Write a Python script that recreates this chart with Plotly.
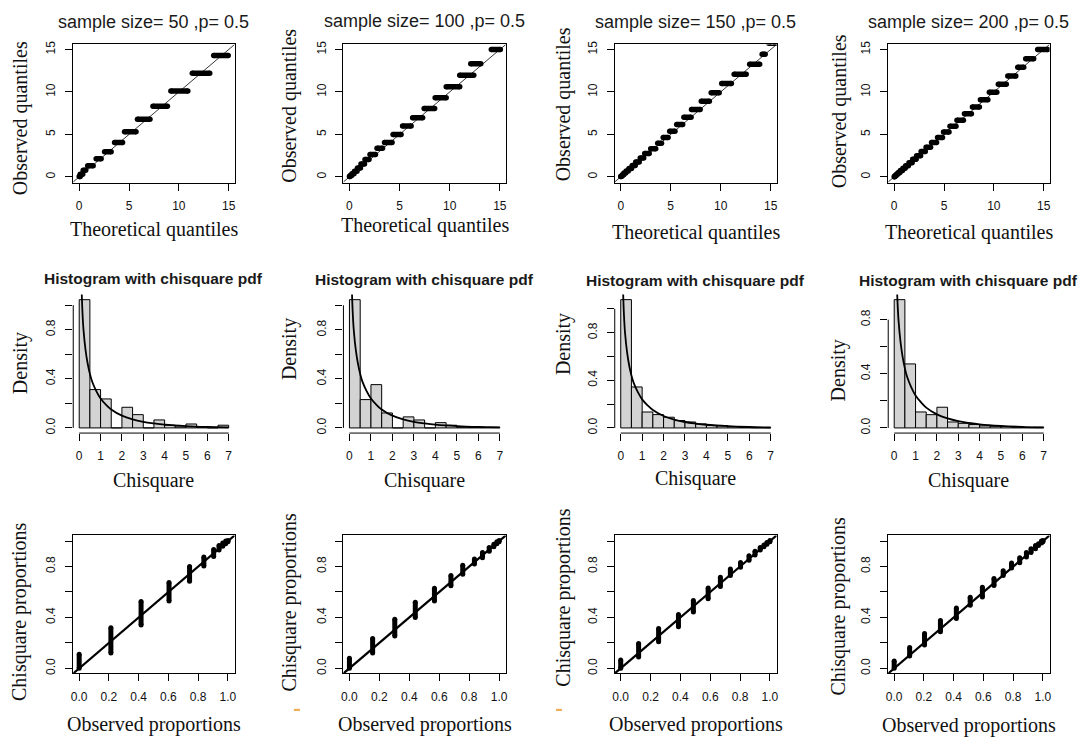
import plotly.graph_objects as go

W, H = 1087, 738

# ---------------- data ----------------
sample_sizes = [50, 100, 150, 200]
p_label = "0.5"

# Q-Q plots: each step = observed quantile level with the theoretical-quantile span it covers
qq50_level = [0.05, 0.30, 0.78, 1.32, 2.12, 2.95, 4.05, 5.32, 6.78, 8.33, 10.12, 12.20, 14.30]
qq50_from  = [0.00, 0.10, 0.40, 0.85, 1.70, 2.55, 3.55, 4.55, 5.85, 7.40, 9.20, 11.35, 13.50]
qq50_to    = [0.10, 0.35, 0.65, 1.40, 2.20, 3.20, 4.35, 5.70, 7.10, 8.85, 10.90, 13.10, 14.95]

qq100_level = [0.04, 0.17, 0.37, 0.66, 1.03, 1.50, 2.05, 2.62, 3.37, 4.05, 5.00, 6.00, 6.97, 8.06, 9.31, 10.60, 11.96, 13.32, 15.00]
qq100_from  = [0.00, 0.08, 0.25, 0.50, 0.80, 1.15, 1.55, 2.05, 2.75, 3.50, 4.35, 5.30, 6.30, 7.45, 8.55, 9.65, 11.00, 12.10, 14.15]
qq100_to    = [0.06, 0.22, 0.45, 0.75, 1.10, 1.50, 1.95, 2.60, 3.30, 4.25, 5.15, 6.15, 7.30, 8.50, 9.65, 11.00, 12.40, 13.10, 15.05]

qq150_level = [0.03, 0.11, 0.25, 0.44, 0.69, 0.99, 1.35, 1.76, 2.22, 2.75, 3.32, 3.96, 4.64, 5.38, 6.18, 7.03, 7.94, 8.90, 9.90, 11.00, 12.10, 13.25, 14.45, 15.75]
qq150_from  = [0.00, 0.06, 0.17, 0.32, 0.55, 0.82, 1.15, 1.50, 1.95, 2.40, 3.00, 3.70, 4.25, 4.90, 5.60, 6.32, 7.08, 8.06, 9.05, 10.10, 11.35, 12.90, 14.15, 14.80]
qq150_to    = [0.04, 0.14, 0.30, 0.50, 0.75, 1.08, 1.45, 1.85, 2.30, 2.85, 3.50, 4.08, 4.74, 5.43, 6.20, 7.04, 7.95, 8.87, 9.85, 11.07, 12.55, 13.90, 14.45, 15.50]

qq200_level = [0.02, 0.08, 0.19, 0.33, 0.52, 0.74, 1.01, 1.32, 1.67, 2.06, 2.49, 2.97, 3.48, 4.04, 4.64, 5.27, 5.95, 6.67, 7.44, 8.24, 9.08, 9.97, 10.90, 11.87, 12.90, 13.90, 15.00]
qq200_from  = [0.00, 0.05, 0.13, 0.26, 0.42, 0.62, 0.88, 1.15, 1.48, 1.85, 2.25, 2.70, 3.20, 3.75, 4.35, 4.95, 5.60, 6.30, 7.05, 7.85, 8.65, 9.55, 10.45, 11.40, 12.40, 13.20, 14.40]
qq200_to    = [0.04, 0.11, 0.23, 0.38, 0.58, 0.83, 1.10, 1.42, 1.80, 2.20, 2.65, 3.12, 3.65, 4.25, 4.85, 5.50, 6.20, 6.95, 7.75, 8.55, 9.40, 10.30, 11.25, 12.20, 13.00, 14.00, 15.40]

# Histograms (density per 0.5-wide bin, 0 to 7)
hist_bin_mid = [0.25, 0.75, 1.25, 1.75, 2.25, 2.75, 3.25, 3.75, 4.25, 4.75, 5.25, 5.75, 6.25, 6.75]
hist50_density  = [1.044, 0.312, 0.236, 0.0, 0.168, 0.108, 0.0, 0.065, 0.022, 0.008, 0.032, 0.006, 0.0, 0.022]
hist100_density = [1.046, 0.231, 0.353, 0.122, 0.0, 0.090, 0.065, 0.0, 0.043, 0.022, 0.006, 0.004, 0.003, 0.005]
hist150_density = [1.077, 0.344, 0.134, 0.112, 0.090, 0.062, 0.050, 0.034, 0.022, 0.020, 0.010, 0.005, 0.003, 0.003]
hist200_density = [0.948, 0.473, 0.118, 0.098, 0.153, 0.044, 0.034, 0.025, 0.015, 0.012, 0.010, 0.005, 0.003, 0.005]

# chi-square (1 df) density curve drawn over each histogram
chisq_x   = [0.10, 0.15, 0.20, 0.30, 0.40, 0.50, 0.60, 0.80, 1.00, 1.25, 1.50, 2.00, 2.50, 3.00, 3.50, 4.00, 5.00, 6.00, 7.00]
chisq_pdf = [1.20, 0.95, 0.80, 0.63, 0.52, 0.44, 0.38, 0.30, 0.24, 0.19, 0.15, 0.10, 0.07, 0.05, 0.037, 0.027, 0.015, 0.008, 0.004]

# Proportion plots: each stack = observed proportion with the range of chisquare proportions
prop50_obs = [0.0, 0.213, 0.416, 0.604, 0.742, 0.838, 0.904, 0.94, 0.965, 0.985, 1.0]
prop50_lo  = [0.0, 0.12, 0.34, 0.53, 0.685, 0.805, 0.88, 0.93, 0.96, 0.98, 0.995]
prop50_hi  = [0.11, 0.32, 0.525, 0.675, 0.80, 0.875, 0.935, 0.965, 0.985, 1.0, 1.005]

prop100_obs = [0.0, 0.155, 0.303, 0.44, 0.568, 0.678, 0.757, 0.835, 0.889, 0.934, 0.965, 0.985, 1.0]
prop100_lo  = [0.0, 0.12, 0.255, 0.40, 0.53, 0.65, 0.74, 0.82, 0.87, 0.92, 0.955, 0.98, 0.995]
prop100_hi  = [0.08, 0.235, 0.385, 0.52, 0.63, 0.73, 0.81, 0.86, 0.91, 0.95, 0.975, 0.995, 1.005]

prop150_obs = [0.0, 0.12, 0.254, 0.387, 0.487, 0.586, 0.668, 0.735, 0.803, 0.86, 0.90, 0.935, 0.96, 0.98, 1.0]
prop150_lo  = [0.0, 0.09, 0.21, 0.326, 0.443, 0.547, 0.643, 0.729, 0.794, 0.85, 0.89, 0.93, 0.955, 0.975, 0.995]
prop150_hi  = [0.066, 0.196, 0.313, 0.424, 0.533, 0.632, 0.715, 0.78, 0.832, 0.885, 0.92, 0.95, 0.97, 0.99, 1.005]

prop200_obs = [0.0, 0.104, 0.204, 0.311, 0.418, 0.511, 0.593, 0.671, 0.733, 0.789, 0.844, 0.889, 0.92, 0.95, 0.97, 0.99, 1.0]
prop200_lo  = [0.0, 0.098, 0.184, 0.288, 0.391, 0.495, 0.56, 0.651, 0.729, 0.789, 0.83, 0.875, 0.91, 0.94, 0.965, 0.985, 0.995]
prop200_hi  = [0.058, 0.164, 0.274, 0.377, 0.474, 0.559, 0.637, 0.707, 0.767, 0.827, 0.87, 0.91, 0.94, 0.965, 0.98, 1.0, 1.005]

qq_sets = [(qq50_level, qq50_from, qq50_to), (qq100_level, qq100_from, qq100_to),
           (qq150_level, qq150_from, qq150_to), (qq200_level, qq200_from, qq200_to)]
hist_sets = [hist50_density, hist100_density, hist150_density, hist200_density]
prop_sets = [(prop50_obs, prop50_lo, prop50_hi), (prop100_obs, prop100_lo, prop100_hi),
             (prop150_obs, prop150_lo, prop150_hi), (prop200_obs, prop200_lo, prop200_hi)]

# ---------------- layout geometry (pixels) ----------------
col_box = [(71.5, 233.5), (342.7, 505.7), (615.0, 777.5), (889.5, 1051.5)]
row_box = [(40.7, 180.0), (292.5, 432.0), (535.0, 674.0)]
hist_yrange = [(-0.042, 1.086), (-0.042, 1.088), (-0.043, 1.12), (-0.038, 0.986)]
hist_ytop = [1.0, 1.0, 1.0, 0.8]

qq_title_y = [18.3, 17.5, 18.3, 18.3]
qq_xlab_y = [227, 223, 230, 230]
qq_ylab = [(18, 115), (289, 102.5), (563.3, 100.8), (840.8, 108.3)]
hist_title_y = [276.7, 277.3, 278.3, 278.3]
hist_xlab_y = [480, 480, 478, 480]
hist_ylab = [(18, 361.7), (288, 347.5), (563, 342.5), (840, 369)]
prop_xlab_y = [725.7, 725, 725, 726.7]
prop_ylab = [(17.5, 611.7), (289, 601.7), (563.3, 597.5), (840, 605.8)]

def px(x):
    return x / W

def py(y):
    return 1 - y / H

tickfont = dict(family="Liberation Sans, Arial, sans-serif", size=12, color="#111111")
serif = dict(family="Liberation Serif, Times New Roman, serif", size=20, color="#111111")

fig = go.Figure()
layout = dict(width=W, height=H, margin=dict(l=0, r=0, t=0, b=0),
              plot_bgcolor="white", paper_bgcolor="white", showlegend=False)
annotations = []
shapes = []

def ax(i):
    return ("" if i == 1 else str(i))

def base_axis(**kw):
    d = dict(showgrid=False, zeroline=False, ticks="outside", ticklen=7, tickwidth=1,
             tickcolor="black", tickfont=tickfont, ticklabelstandoff=5, fixedrange=True)
    d.update(kw)
    return d

def ann(text, x, y, font, angle=0):
    annotations.append(dict(text=text, x=px(x), y=py(y), xref="paper", yref="paper",
                            showarrow=False, xanchor="center", yanchor="middle",
                            font=font, textangle=angle))

for c in range(4):
    l, r = col_box[c]
    cx = (l + r) / 2
    xdom = [px(l), px(r)]
    # ---- row 1: Q-Q ----
    i = c + 1
    t, b = row_box[0]
    layout["xaxis" + ax(i)] = base_axis(domain=xdom, range=[-0.6, 15.6], anchor="y" + ax(i),
                                        tickvals=[0, 5, 10, 15], showline=True, mirror=True,
                                        linecolor="black", linewidth=1)
    layout["yaxis" + ax(i)] = base_axis(domain=[py(b), py(t)], range=[-0.7, 15.6], anchor="x" + ax(i),
                                        tickvals=[0, 5, 10, 15], tickangle=-90, showline=True,
                                        mirror=True, linecolor="black", linewidth=1)
    fig.add_trace(go.Scatter(x=[-0.6, 15.6], y=[-0.6, 15.6], mode="lines",
                             line=dict(color="black", width=0.8),
                             xaxis="x" + ax(i), yaxis="y" + ax(i), hoverinfo="skip"))
    lv, fr, to = qq_sets[c]
    xs, ys = [], []
    for a, s, e in zip(lv, fr, to):
        xs += [s, e, None]
        ys += [a, a, None]
    fig.add_trace(go.Scatter(x=xs, y=ys, mode="lines+markers",
                             line=dict(color="black", width=5.5),
                             marker=dict(color="black", size=5.5),
                             xaxis="x" + ax(i), yaxis="y" + ax(i)))
    ann("sample size= %d ,p= %s" % (sample_sizes[c], p_label), cx, qq_title_y[c],
        dict(family="Liberation Sans, Arial, sans-serif", size=18, color="#1a1a1a"))
    ann("Theoretical quantiles", cx, qq_xlab_y[c], serif)
    ann("Observed quantiles", qq_ylab[c][0], qq_ylab[c][1], serif, -90)

    # ---- row 2: histogram ----
    i = c + 5
    t, b = row_box[1]
    ytop = hist_ytop[c]
    yv = [0, 0.2, 0.4, 0.6, 0.8, 1.0] if ytop == 1.0 else [0, 0.2, 0.4, 0.6, 0.8]
    yt = ["0.0", "", "0.4", "", "0.8", ""][:len(yv)]
    layout["xaxis" + ax(i)] = base_axis(domain=xdom, range=[-0.28, 7.28], anchor="y" + ax(i),
                                        tickvals=list(range(8)), showline=False)
    layout["yaxis" + ax(i)] = base_axis(domain=[py(b), py(t)], range=list(hist_yrange[c]),
                                        anchor="x" + ax(i), tickvals=yv, ticktext=yt,
                                        tickangle=-90, showline=False)
    fig.add_trace(go.Bar(x=hist_bin_mid, y=hist_sets[c], width=0.5,
                         marker=dict(color="#d3d3d3", line=dict(color="black", width=1)),
                         xaxis="x" + ax(i), yaxis="y" + ax(i)))
    fig.add_trace(go.Scatter(x=chisq_x, y=chisq_pdf, mode="lines", line_shape="spline",
                             line=dict(color="black", width=1.8),
                             xaxis="x" + ax(i), yaxis="y" + ax(i)))
    shapes.append(dict(type="line", xref="x" + ax(i), yref="y" + ax(i) + " domain",
                       x0=0, x1=7, y0=0, y1=0, line=dict(color="black", width=1)))
    shapes.append(dict(type="line", xref="x" + ax(i) + " domain", yref="y" + ax(i),
                       x0=0, x1=0, y0=0, y1=ytop, line=dict(color="black", width=1)))
    ann("<b>Histogram with chisquare pdf</b>", cx, hist_title_y[c],
        dict(family="Liberation Sans, Arial, sans-serif", size=15.5, color="#1a1a1a"))
    ann("Chisquare", cx, hist_xlab_y[c], serif)
    ann("Density", hist_ylab[c][0], hist_ylab[c][1], serif, -90)

    # ---- row 3: proportions ----
    i = c + 9
    t, b = row_box[2]
    pv = [0, 0.2, 0.4, 0.6, 0.8, 1.0]
    layout["xaxis" + ax(i)] = base_axis(domain=xdom, range=[-0.04, 1.045], anchor="y" + ax(i),
                                        tickvals=pv, ticktext=["0.0", "0.2", "0.4", "0.6", "0.8", "1.0"],
                                        showline=True, mirror=True, linecolor="black", linewidth=1)
    layout["yaxis" + ax(i)] = base_axis(domain=[py(b), py(t)], range=[-0.04, 1.045], anchor="x" + ax(i),
                                        tickvals=pv, ticktext=["0.0", "", "0.4", "", "0.8", ""],
                                        tickangle=-90, showline=True, mirror=True,
                                        linecolor="black", linewidth=1)
    fig.add_trace(go.Scatter(x=[-0.04, 1.045], y=[-0.04, 1.045], mode="lines",
                             line=dict(color="black", width=2.2),
                             xaxis="x" + ax(i), yaxis="y" + ax(i)))
    ob, lo, hi = prop_sets[c]
    xs, ys = [], []
    for o, a, e in zip(ob, lo, hi):
        xs += [o, o, None]
        ys += [a, e, None]
    fig.add_trace(go.Scatter(x=xs, y=ys, mode="lines+markers",
                             line=dict(color="black", width=5),
                             marker=dict(color="black", size=5),
                             xaxis="x" + ax(i), yaxis="y" + ax(i)))
    ann("Observed proportions", cx, prop_xlab_y[c], serif)
    ann("Chisquare proportions", prop_ylab[c][0], prop_ylab[c][1], serif, -90)

# tiny orange marks present in the picture
for mx in [296, 559]:
    shapes.append(dict(type="line", xref="paper", yref="paper", x0=px(mx - 3), x1=px(mx + 3),
                       y0=py(710.7), y1=py(710.7), line=dict(color="#f0a848", width=2)))

layout["annotations"] = annotations
layout["shapes"] = shapes
fig.update_layout(**layout)
fig.write_html("out.html", config={"displayModeBar": False, "staticPlot": True},
               post_script="document.body.style.margin='0';document.body.style.overflow='hidden';")
